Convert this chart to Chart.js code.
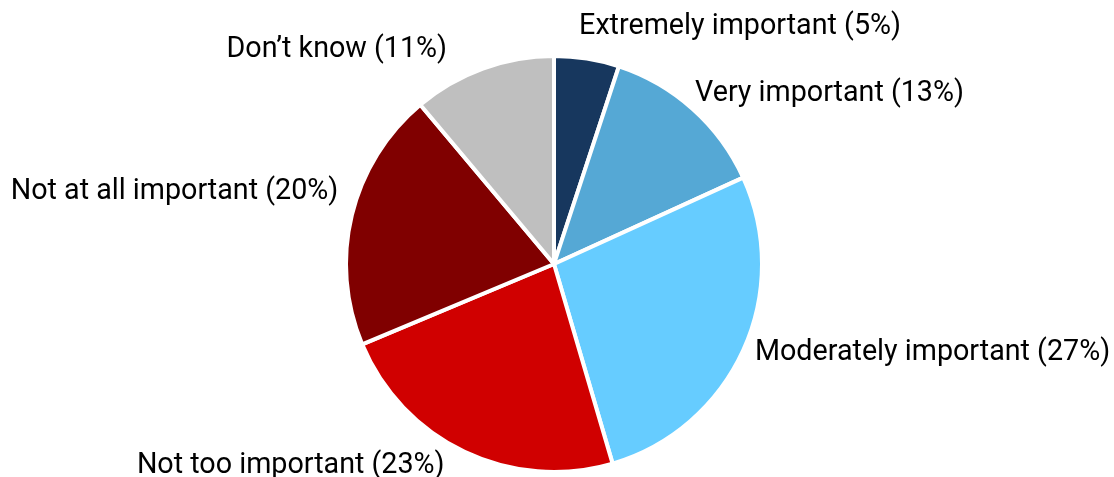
<!DOCTYPE html>
<html>
<head>
<meta charset="utf-8">
<script src="https://cdn.jsdelivr.net/npm/chart.js@4.4.1/dist/chart.umd.min.js"></script>
<style>
  html, body { margin: 0; padding: 0; background: #fff; }
  #wrap { width: 1114px; height: 477px; position: relative; }
</style>
</head>
<body>
<div id="wrap"><canvas id="pieChart"></canvas></div>
<script>
// ── DATA ──
const categories = ['Extremely important', 'Very important', 'Moderately important', 'Not too important', 'Not at all important', 'Don\u2019t know'];
const shares     = [5, 13, 27, 23, 20, 11];
const colors     = ['#17375e', '#55a8d5', '#66ccff', '#d00000', '#800000', '#bfbfbf'];

// small hand nudges so the labels sit where the original placed them
const labelNudge = [[-10, -7], [-7, 3], [-1, -8], [-14, -9], [0, -17], [-31, 5]];

// labels outside the pie, placed from each arc's mid angle
const outsideLabels = {
    id: 'outsideLabels',
    afterDatasetsDraw(chart) {
        const ctx = chart.ctx;
        const meta = chart.getDatasetMeta(0);
        ctx.save();
        ctx.font = '28.7px Roboto';
        ctx.fillStyle = '#000';
        ctx.textBaseline = 'middle';
        meta.data.forEach((arc, i) => {
            const mid = (arc.startAngle + arc.endAngle) / 2;
            const r = arc.outerRadius + 14;
            const ax = arc.x + Math.cos(mid) * r;
            const ay = arc.y + Math.sin(mid) * r;
            const sin = Math.cos(mid), cos = -Math.sin(mid); // clockwise from top
            const [nx, ny] = labelNudge[i];
            ctx.textAlign = sin >= 0 ? 'left' : 'right';
            ctx.fillText(`${categories[i]} (${shares[i]}%)`, ax + nx, ay - cos * 11 + ny);
        });
        ctx.restore();
    }
};

new Chart(document.getElementById('pieChart'), {
    type: 'pie',
    data: {
        labels: categories,
        datasets: [{ data: shares, backgroundColor: colors, borderColor: '#fff', borderWidth: 4, radius: 208, hoverOffset: 0 }]
    },
    options: {
        responsive: true, maintainAspectRatio: false, animation: false,
        layout: { padding: { top: 56, bottom: 5, left: 346, right: 352 } },
        plugins: { legend: { display: false }, tooltip: { enabled: false } }
    },
    plugins: [outsideLabels]
});
</script>
</body>
</html>
